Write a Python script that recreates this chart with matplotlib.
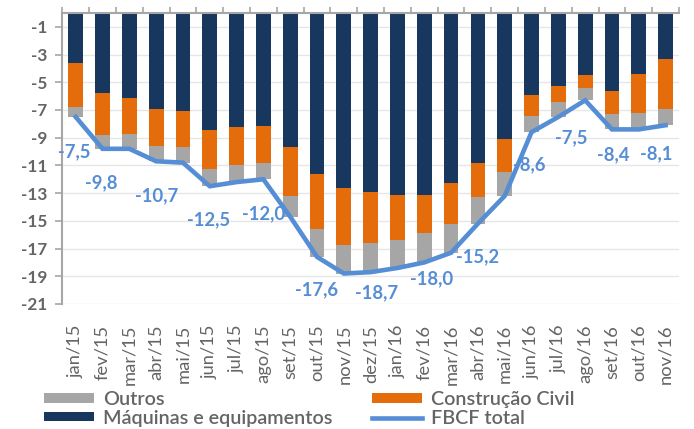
import matplotlib
matplotlib.use("Agg")
import matplotlib.pyplot as plt
import numpy as np

# ---- data ----
months = ['jan/15', 'fev/15', 'mar/15', 'abr/15', 'mai/15', 'jun/15', 'jul/15', 'ago/15',
          'set/15', 'out/15', 'nov/15', 'dez/15', 'jan/16', 'fev/16', 'mar/16', 'abr/16',
          'mai/16', 'jun/16', 'jul/16', 'ago/16', 'set/16', 'out/16', 'nov/16']
maquinas = [-3.6, -5.8, -6.1, -6.9, -7.05, -8.45, -8.25, -8.15, -9.7, -11.65, -12.65, -12.95,
            -13.1, -13.15, -12.3, -10.85, -9.1, -5.9, -5.3, -4.5, -5.6, -4.4, -3.3]
construcao = [-3.15, -3.0, -2.65, -2.7, -2.65, -2.8, -2.7, -2.65, -3.5, -3.95, -4.1, -3.65,
              -3.3, -2.75, -2.9, -2.45, -2.4, -1.55, -1.15, -0.9, -1.7, -2.8, -3.65]
outros = [-0.75, -1.0, -1.05, -1.1, -1.1, -1.25, -1.25, -1.2, -1.5, -2.0, -2.05, -2.1,
          -2.0, -2.1, -2.1, -1.9, -1.7, -1.15, -1.05, -0.9, -1.1, -1.2, -1.15]
fbcf_total = [-7.5, -9.8, -9.8, -10.7, -10.8, -12.5, -12.2, -12.0, -14.7, -17.6, -18.8, -18.7,
              -18.4, -18.0, -17.3, -15.2, -13.2, -8.6, -7.5, -6.3, -8.4, -8.4, -8.1]
label_idx = [0, 1, 3, 5, 7, 9, 11, 13, 15, 17, 18, 20, 22]
yticks = [-1, -3, -5, -7, -9, -11, -13, -15, -17, -19, -21]

# ---- style ----
NAVY = '#17375E'
ORANGE = '#E46C0A'
GRAY = '#A6A6A6'
BLUE = '#558ED5'
TXT = '#656565'
FONT = 'Lato'

# label offsets in pixels (dx right, dy down)
label_off = {0: (-1, 35), 1: (-1, 34), 3: (0, 34), 5: (-1, 34), 7: (0, 34), 9: (0, 33),
             11: (6, 21), 13: (7, 16), 15: (0, 33), 17: (-2, 33), 18: (13, 21),
             20: (1, 25), 22: (-9, 29)}

W, H = 694, 429
fig = plt.figure(figsize=(W / 100, H / 100), dpi=100)
ax = fig.add_axes([62.3 / W, 1 - 304 / H, (679 - 62.3) / W, (304 - 13) / H])

x = np.arange(len(months))
mq = np.array(maquinas)
cc = np.array(construcao)
ot = np.array(outros)
bw = 0.55
ax.bar(x, mq, bw, color=NAVY, zorder=2, label='Máquinas e equipamentos')
ax.bar(x, cc, bw, bottom=mq, color=ORANGE, zorder=2, label='Construção Civil')
ax.bar(x, ot, bw, bottom=mq + cc, color=GRAY, zorder=2, label='Outros')
line, = ax.plot(x, fbcf_total, color=BLUE, lw=3.3, zorder=5, solid_joinstyle='miter',
                label='FBCF total')

for i in label_idx:
    v = fbcf_total[i]
    dx, dy = label_off[i]
    ax.annotate(f"{v:.1f}".replace('.', ','), (x[i], v), xytext=(dx * 0.72, -dy * 0.72),
                textcoords='offset points', ha='center', va='center', color=BLUE,
                fontsize=13.3, fontweight='bold', family=FONT, zorder=4)

ax.set_xlim(-0.5, len(months) - 0.5)
ax.set_ylim(-21, 0)
ax.set_yticks(yticks)
ax.set_yticklabels([str(t) for t in yticks])
ax.grid(axis='y', color='#E6E6E6', lw=1, zorder=0)
ax.set_axisbelow(True)

for s in ['right', 'bottom']:
    ax.spines[s].set_visible(False)
for s in ['left', 'top']:
    ax.spines[s].set_color('#A6A6A6')
    ax.spines[s].set_linewidth(1.5)

ax.tick_params(axis='y', direction='out', length=5, width=1.2, color='#A6A6A6',
               labelcolor=TXT, labelsize=12.3, pad=6)
for lab in ax.get_yticklabels():
    lab.set_fontweight('bold')
    lab.set_family(FONT)

ax.set_xticks(x)
ax.set_xticklabels(months, rotation=90, family=FONT, fontsize=13.2, color=TXT)
ax.set_xticks(np.arange(-0.5, len(months), 1), minor=True)
ax.tick_params(axis='x', which='major', length=0, bottom=False, top=False, pad=15)
ax.tick_params(axis='x', which='minor', bottom=False, top=True, direction='out',
               length=4, width=1.2, color='#A6A6A6')

handles, labels = ax.get_legend_handles_labels()
hmap = dict(zip(labels, handles))
order = ['Outros', 'Máquinas e equipamentos', 'Construção Civil', 'FBCF total']
leg = fig.legend([hmap[k] for k in order], order, loc='upper left',
                 bbox_to_anchor=(44 / W, 1 - 391 / H), ncol=2, frameon=False,
                 borderpad=0, borderaxespad=0, handlelength=2.55, handleheight=0.38,
                 handletextpad=0.45, columnspacing=2.0, labelspacing=0.08,
                 prop={'family': FONT, 'size': 14.2, 'weight': 'semibold'})
for t in leg.get_texts():
    t.set_color(TXT)

fig.savefig('out.png', dpi=100)
